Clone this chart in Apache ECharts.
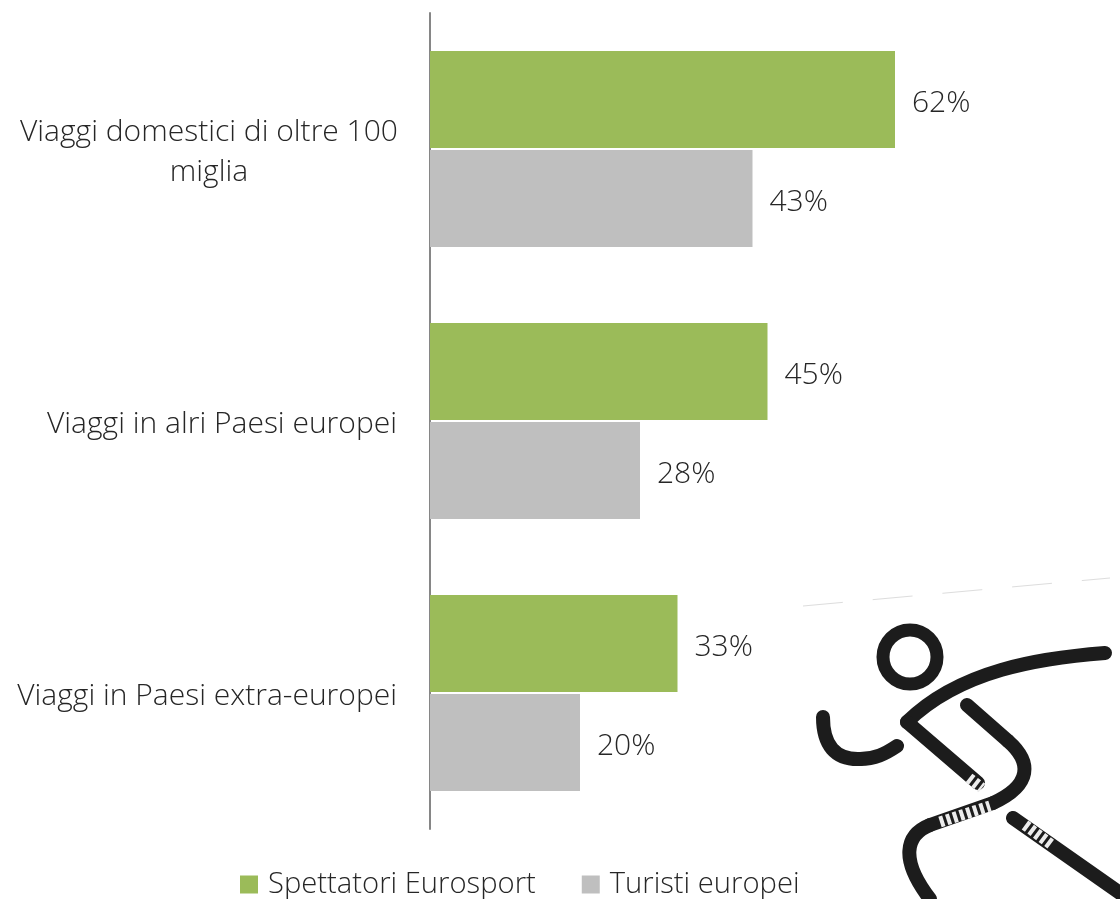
<!DOCTYPE html>
<html lang="it">
<head>
    <meta charset="UTF-8">
    <title>Viaggi</title>
    <script src="https://cdn.jsdelivr.net/npm/echarts@6/dist/echarts.min.js"></script>
    <style>
        html, body { margin: 0; padding: 0; background: #fff; }
        #chart { width: 1120px; height: 899px; }
    </style>
</head>
<body>
<div id="chart"></div>
<script type="text/javascript">
    var categories = ['Viaggi domestici di oltre 100\nmiglia', 'Viaggi in alri Paesi europei', 'Viaggi in Paesi extra-europei'];
    var spettatori = [62, 45, 33];
    var turisti = [43, 28, 20];

    var fontName = '"Open Sans", "Noto Sans", sans-serif';
    var textColor = '#262626';

    // runner icon, bottom right corner
    var inkStyle = { fill: 'none', stroke: '#1c1c1c', lineWidth: 14, lineCap: 'round', lineJoin: 'round' };
    function curve(x1, y1, cx1, cy1, cx2, cy2, x2, y2) {
        return {
            type: 'bezierCurve', silent: true, style: inkStyle,
            shape: { x1: x1, y1: y1, cpx1: cx1, cpy1: cy1, cpx2: cx2, cpy2: cy2, x2: x2, y2: y2 }
        };
    }
    function straight(x1, y1, x2, y2, style) {
        return { type: 'line', silent: true, style: style || inkStyle, shape: { x1: x1, y1: y1, x2: x2, y2: y2 } };
    }
    var wornStyle = { stroke: '#ececec', lineWidth: 11, lineDash: [4, 3] };
    var icon = [
        { type: 'circle', silent: true, shape: { cx: 910, cy: 657, r: 27 }, style: { fill: 'none', stroke: '#1c1c1c', lineWidth: 13 } },
        curve(1105, 653, 1040, 658, 960, 670, 907, 722),
        straight(907, 722, 978, 783),
        curve(823, 717, 823, 745, 835, 760, 860, 759),
        curve(860, 759, 875, 759, 885, 754, 897, 746),
        straight(967, 705, 1008, 741),
        curve(1008, 741, 1032, 762, 1032, 785, 993, 803),
        straight(993, 803, 930, 825),
        curve(930, 825, 905, 835, 900, 860, 930, 899),
        straight(1013, 818, 1120, 893),
        // worn spots
        straight(969, 778, 982, 788, wornStyle),
        straight(940, 822, 990, 806, wornStyle),
        straight(1025, 825, 1052, 845, wornStyle),
        straight(803, 606, 1110, 578, { stroke: '#dddddd', lineWidth: 1, lineDash: [40, 30] })
    ];

    var chart = echarts.init(document.getElementById('chart'));
    var labelStyle = {
        show: true,
        position: 'right',
        distance: 17,
        offset: [0, 4],
        formatter: '{c}%',
        fontFamily: fontName,
        fontWeight: 300,
        fontSize: 30,
        color: textColor
    };
    chart.setOption({
        animation: false,
        backgroundColor: '#ffffff',
        textStyle: { fontFamily: fontName },
        grid: { left: 430, top: 13, width: 600, height: 816 },
        legend: {
            left: 235,
            top: 865,
            itemWidth: 18,
            itemHeight: 18,
            itemGap: 46,
            icon: 'rect',
            textStyle: { fontFamily: fontName, fontWeight: 300, fontSize: 29.2, color: textColor, padding: [0, 0, 0, 5] },
            data: ['Spettatori Eurosport', 'Turisti europei']
        },
        xAxis: { type: 'value', min: 0, max: 80, show: false },
        yAxis: {
            type: 'category',
            inverse: true,
            data: categories,
            axisLine: { show: true, lineStyle: { color: '#868686', width: 2 } },
            axisTick: { show: false },
            axisLabel: {
                margin: 33,
                padding: [6, 0, 0, 0],
                formatter: function (v) {
                    return v.split('\n').map(function (s) {
                        return v.indexOf('\n') >= 0 ? '{c|' + s + '}' : '{r|' + s + '}';
                    }).join('\n');
                },
                rich: {
                    c: { width: 376, align: 'center', fontFamily: fontName, fontWeight: 300, fontSize: 30, lineHeight: 40, color: textColor },
                    r: { align: 'right', fontFamily: fontName, fontWeight: 300, fontSize: 30, color: textColor }
                }
            }
        },
        series: [
            {
                name: 'Spettatori Eurosport',
                type: 'bar',
                data: spettatori,
                barWidth: 97,
                barGap: '2%',
                itemStyle: { color: '#9bbb59' },
                label: labelStyle
            },
            {
                name: 'Turisti europei',
                type: 'bar',
                data: turisti,
                barWidth: 97,
                itemStyle: { color: '#bfbfbf' },
                label: labelStyle
            }
        ],
        graphic: icon
    });
</script>
</body>
</html>
